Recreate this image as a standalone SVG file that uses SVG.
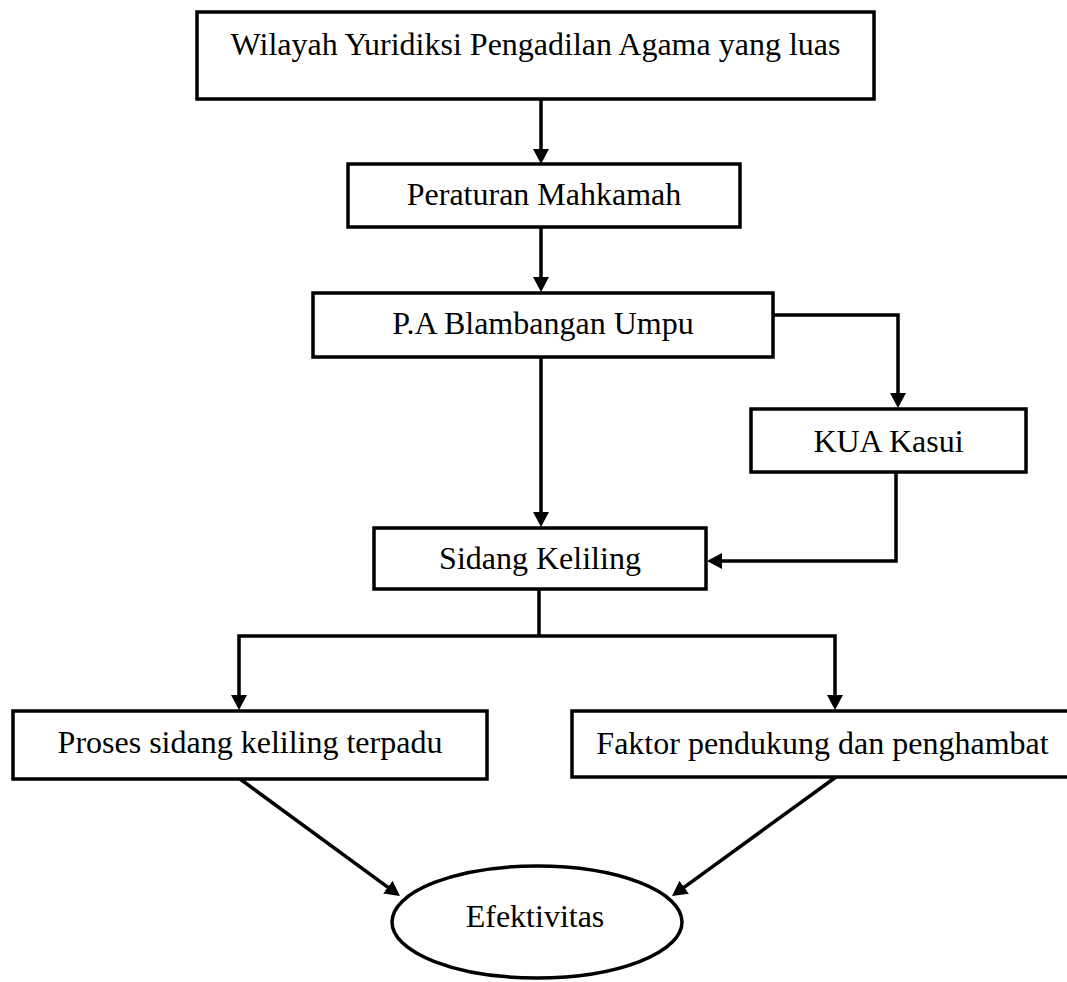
<svg xmlns="http://www.w3.org/2000/svg" width="1067" height="982" viewBox="0 0 1067 982">
  <style>
    .box { fill: #ffffff; stroke: #000000; stroke-width: 3.5; }
    .lbl { font-family: "Liberation Serif", "Times New Roman", serif; font-size: 32px; fill: #000000; text-anchor: middle; }
    .con { fill: none; stroke: #000000; stroke-width: 3.5; }
    .arr { marker-end: url(#ah); }
  </style>
  <defs>
    <marker id="ah" markerUnits="userSpaceOnUse" markerWidth="16" markerHeight="16" refX="7" refY="8" orient="auto">
      <path d="M0,0 L15,8 L0,16 Z" fill="#000000"/>
    </marker>
  </defs>
  <rect width="1067" height="982" fill="#ffffff"/>

  <g id="connectors">
    <path class="con arr" d="M541,99 L541,156"/>
    <path class="con arr" d="M541,227 L541,284"/>
    <path class="con arr" d="M541,357 L541,519"/>
    <path class="con arr" d="M773,315 L898,315 L898,400"/>
    <path class="con arr" d="M896,472 L896,561 L715,561"/>
    <path class="con" d="M539,589 L539,636"/>
    <path class="con arr" d="M539,636 L239,636 L239,702"/>
    <path class="con arr" d="M539,636 L835,636 L835,702"/>
    <path class="con arr" d="M240,779 L393.5,891.3"/>
    <path class="con arr" d="M836,777 L678.5,891.3"/>
  </g>

  <g id="node-wilayah">
    <rect class="box" x="197" y="12" width="677" height="87"/>
    <text class="lbl" x="535.5" y="55">Wilayah Yuridiksi Pengadilan Agama yang luas</text>
  </g>
  <g id="node-peraturan">
    <rect class="box" x="348" y="164" width="392" height="63"/>
    <text class="lbl" x="544" y="205">Peraturan Mahkamah</text>
  </g>
  <g id="node-pa">
    <rect class="box" x="313" y="293" width="460" height="64"/>
    <text class="lbl" x="543" y="334">P.A Blambangan Umpu</text>
  </g>
  <g id="node-kua">
    <rect class="box" x="751" y="409" width="275" height="63"/>
    <text class="lbl" x="888.5" y="452">KUA Kasui</text>
  </g>
  <g id="node-sidang">
    <rect class="box" x="374" y="528" width="332" height="61"/>
    <text class="lbl" x="540" y="569">Sidang Keliling</text>
  </g>
  <g id="node-proses">
    <rect class="box" x="13" y="711" width="474" height="68"/>
    <text class="lbl" x="250" y="753">Proses sidang keliling terpadu</text>
  </g>
  <g id="node-faktor">
    <rect class="box" x="572" y="711" width="500" height="66"/>
    <text class="lbl" x="822.5" y="754">Faktor pendukung dan penghambat</text>
  </g>
  <g id="node-efektivitas">
    <ellipse class="box" cx="537" cy="922" rx="145" ry="56"/>
    <text class="lbl" x="535" y="927">Efektivitas</text>
  </g>
</svg>
